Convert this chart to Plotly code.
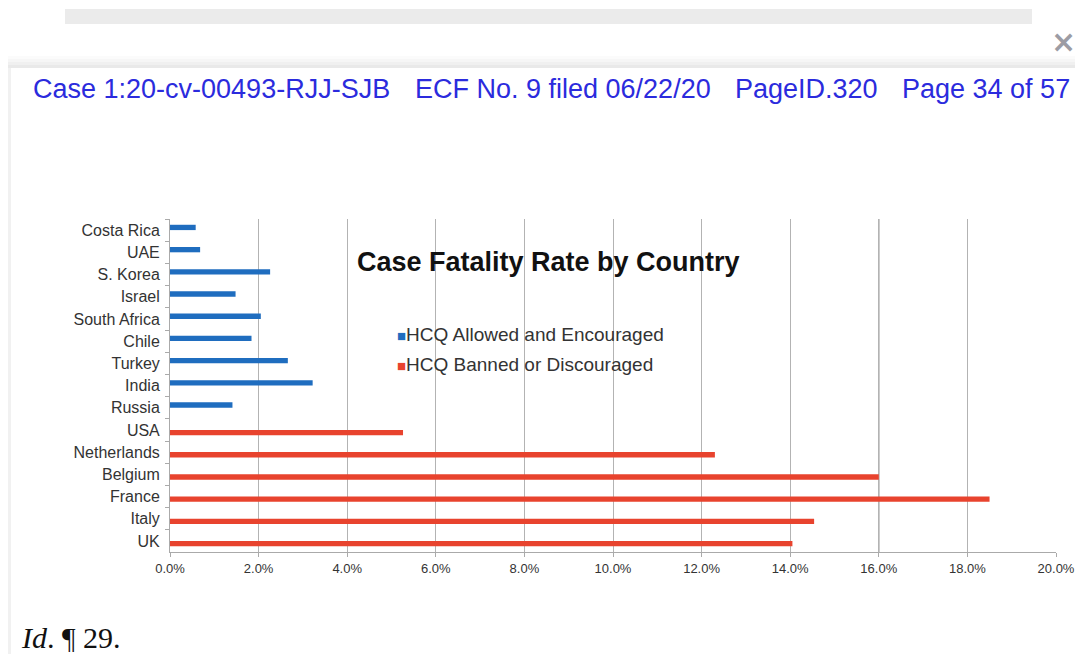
import plotly.graph_objects as go

countries = ["Costa Rica", "UAE", "S. Korea", "Israel", "South Africa", "Chile", "Turkey",
             "India", "Russia", "USA", "Netherlands", "Belgium", "France", "Italy", "UK"]
allowed = [0.58, 0.68, 2.26, 1.48, 2.05, 1.84, 2.66, 3.22, 1.41,
           None, None, None, None, None, None]
banned = [None, None, None, None, None, None, None, None, None,
          5.26, 12.3, 16.0, 18.5, 14.54, 14.05]
series_names = ["HCQ Allowed and Encouraged", "HCQ Banned or Discouraged"]
series_colors = ["#1f6dbf", "#e8432e"]
xticks = [0, 2, 4, 6, 8, 10, 12, 14, 16, 18, 20]
xticklabels = [f"{v:.1f}%" for v in xticks]

# the page body has an 8px margin, so the figure is placed at (8, 8) in the window
OFF = 8
W, H = 1083 - OFF, 654 - OFF
def px(x): return (x - OFF) / W
def py(y): return 1 - (y - OFF) / H

fig = go.Figure()
fig.add_trace(go.Bar(y=countries, x=allowed, orientation="h", name=series_names[0], showlegend=False,
                     marker=dict(color=series_colors[0], line=dict(width=0))))
fig.add_trace(go.Bar(y=countries, x=banned, orientation="h", name=series_names[1], showlegend=False,
                     marker=dict(color=series_colors[1], line=dict(width=0))))

shapes = []
# top grey bar
shapes.append(dict(type="rect", xref="paper", yref="paper", x0=px(65), x1=px(1032), y0=py(24), y1=py(9),
                   fillcolor="#ebebeb", line=dict(width=0), layer="below"))
# page shadow
for i, c in enumerate(["#fbfbfb", "#f6f6f6", "#f0f0f0", "#e9e9e9"]):
    shapes.append(dict(type="rect", xref="paper", yref="paper", x0=px(6), x1=1, y0=py(68), y1=py(56 + i * 3),
                       fillcolor=c, line=dict(width=0), layer="below"))
shapes.append(dict(type="rect", xref="paper", yref="paper", x0=px(8), x1=px(11), y0=0, y1=py(68),
                   fillcolor="#f1f1f1", line=dict(width=0), layer="below"))
shapes.append(dict(type="rect", xref="paper", yref="paper", x0=px(11), x1=1, y0=0, y1=py(68),
                   fillcolor="#ffffff", line=dict(width=0), layer="below"))
# darker 16% gridline
shapes.append(dict(type="line", xref="x", yref="paper", x0=16, x1=16, y0=py(552), y1=py(219),
                   line=dict(color="#555555", width=1), layer="below"))

annotations = []
hdr_font = dict(family="Liberation Sans, Arial, sans-serif", size=27, color="#2b2bdd")
for txt, x0 in [("Case 1:20-cv-00493-RJJ-SJB", 31), ("ECF No. 9 filed 06/22/20", 413),
                ("PageID.320", 733), ("Page 34 of 57", 900)]:
    annotations.append(dict(text=txt, xref="paper", yref="paper", x=px(x0), y=py(89), xanchor="left",
                            yanchor="middle", showarrow=False, font=hdr_font))
annotations.append(dict(text="<b>×</b>", xref="paper", yref="paper", x=px(1049), y=py(42), xanchor="left",
                        yanchor="middle", showarrow=False,
                        font=dict(family="DejaVu Sans, Liberation Sans", size=30, color="#9c9ca4")))
annotations.append(dict(text="<b>Case Fatality Rate by Country</b>", xref="paper", yref="paper",
                        x=px(548), y=py(262), xanchor="center", yanchor="middle", showarrow=False,
                        font=dict(family="Liberation Sans, Arial", size=27, color="#111111")))
# legend drawn as text with coloured squares
for i, (nm, col) in enumerate(zip(series_names, series_colors)):
    annotations.append(dict(text=f"<span style='color:{col};font-size:15px'>■</span>{nm}",
                            xref="paper", yref="paper", x=px(395), y=py(334 + 30 * i), xanchor="left",
                            yanchor="middle", showarrow=False,
                            font=dict(family="Liberation Sans, Arial", size=19, color="#333333")))
annotations.append(dict(text="<i>Id</i>. ¶ 29.", xref="paper", yref="paper", x=px(19), y=py(637),
                        xanchor="left", yanchor="middle", showarrow=False,
                        font=dict(family="Liberation Serif, Times New Roman, serif", size=30, color="#111111")))

fig.update_layout(
    width=W, height=H, margin=dict(l=0, r=0, t=0, b=0, autoexpand=False),
    paper_bgcolor="#ffffff", plot_bgcolor="rgba(0,0,0,0)",
    barmode="group", bargap=0.52, bargroupgap=0, showlegend=False,
    shapes=shapes, annotations=annotations,
    xaxis=dict(domain=[px(170), px(1056)], range=[0, 20], tickvals=xticks, ticktext=xticklabels,
               showgrid=True, gridcolor="#b3b3b3", gridwidth=1, zeroline=False, automargin=False,
               showline=True, linecolor="#aaaaaa", ticks="outside", ticklen=4, tickcolor="#aaaaaa",
               tickfont=dict(family="Liberation Sans, Arial", size=13, color="#333333")),
    yaxis=dict(domain=[py(552), py(219)], autorange="reversed", type="category", automargin=False,
               showgrid=False, showline=True, linecolor="#aaaaaa", ticks="outside", ticklen=4,
               tickcolor="#aaaaaa", tickson="boundaries", ticklabelstandoff=6,
               tickfont=dict(family="Liberation Sans, Arial", size=16, color="#333333")),
)

fig.write_html("out.html")
